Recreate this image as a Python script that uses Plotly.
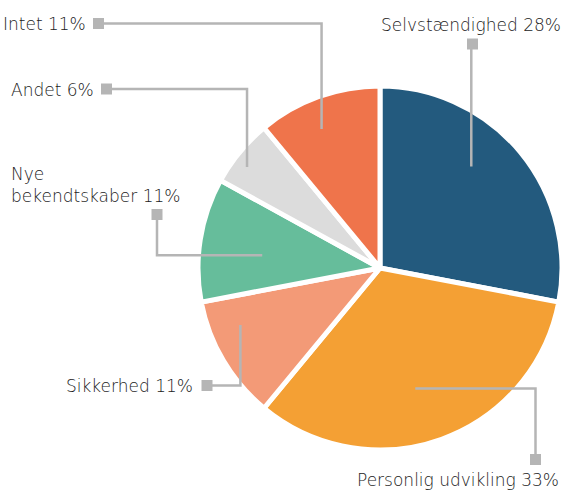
import math
import plotly.graph_objects as go

# ── Data ─────────────────────────────────────────────────────────────────────
labels = ["Selvstændighed", "Personlig udvikling", "Sikkerhed",
          "Nye bekendtskaber", "Andet", "Intet"]
shares = [28, 33, 11, 11, 6, 11]
colors = ["#235a7e", "#f4a034", "#f39a77", "#66bd9b", "#dcdcdc", "#ef744b"]

# ── Layout constants (pixels) ───────────────────────────────────────────────
W, H = 566, 490
CX, CY, R = 380, 268, 182
LINE_COL = "#b5b5b5"
TEXT_COL = "#222222"
FONT = "DejaVu Sans"

# label text, text pos/anchor, square centre, elbow mode, angle offset, radius frac
leaders = [
    dict(text="Selvstændighed 28%", tx=563, ty=25, xa="right", sq=(472.5, 44), mode="v", off=-8.4, rf=0.76),
    dict(text="Personlig udvikling 33%", tx=458, ty=480, xa="center", sq=(535.5, 459.5), mode="h", off=3.5, rf=0.70),
    dict(text="Sikkerhed 11%", tx=195, ty=386, xa="right", sq=(207, 385.5), mode="v", off=8.4, rf=0.84),
    dict(text="Nye<br>bekendtskaber 11%", tx=9, ty=185, xa="left", sq=(157, 214.5), mode="h", off=-2.8, rf=0.66),
    dict(text="Andet 6%", tx=9, ty=90, xa="left", sq=(106.5, 89), mode="v", off=-2.4, rf=0.93),
    dict(text="Intet 11%", tx=88, ty=24, xa="right", sq=(98.5, 23.5), mode="v", off=-3.0, rf=0.84),
]


def px(x):
    return x / W


def py(y):
    return 1 - y / H


fig = go.Figure(go.Pie(
    labels=labels,
    values=shares,
    sort=False,
    direction="clockwise",
    rotation=0,
    marker=dict(colors=colors, line=dict(color="white", width=5)),
    textinfo="none",
    hoverinfo="label+percent",
    domain=dict(x=[px(CX - R), px(CX + R)], y=[py(CY + R), py(CY - R)]),
    showlegend=False,
))

shapes, annotations = [], []
total = sum(shares)
cum = 0
for val, ld in zip(shares, leaders):
    mid = (cum + val / 2) / total * 360 + ld["off"]
    cum += val
    r = (R - 2.5) * ld["rf"]
    ax = CX + r * math.sin(math.radians(mid))
    ay = CY - r * math.cos(math.radians(mid))
    sx, sy = ld["sq"]
    elbow = (ax, sy) if ld["mode"] == "v" else (sx, ay)
    path = "M {} {} L {} {} L {} {}".format(
        px(sx), py(sy), px(elbow[0]), py(elbow[1]), px(ax), py(ay))
    shapes.append(dict(type="path", path=path, xref="paper", yref="paper",
                       line=dict(color=LINE_COL, width=2.5)))
    shapes.append(dict(type="rect", xref="paper", yref="paper",
                       x0=px(sx - 5.5), x1=px(sx + 5.5),
                       y0=py(sy + 5.5), y1=py(sy - 5.5),
                       fillcolor=LINE_COL, line=dict(width=0)))
    annotations.append(dict(text=ld["text"], x=px(ld["tx"]), y=py(ld["ty"]),
                            xref="paper", yref="paper", xanchor=ld["xa"],
                            yanchor="middle", align="left", showarrow=False,
                            font=dict(family=FONT, size=17, weight=200,
                                      color=TEXT_COL)))

fig.update_layout(
    width=W, height=H,
    margin=dict(l=0, r=0, t=0, b=0),
    paper_bgcolor="white",
    plot_bgcolor="white",
    shapes=shapes,
    annotations=annotations,
)

fig.write_html("out.html", config={"displayModeBar": False},
               post_script="document.body.style.margin='0';")
